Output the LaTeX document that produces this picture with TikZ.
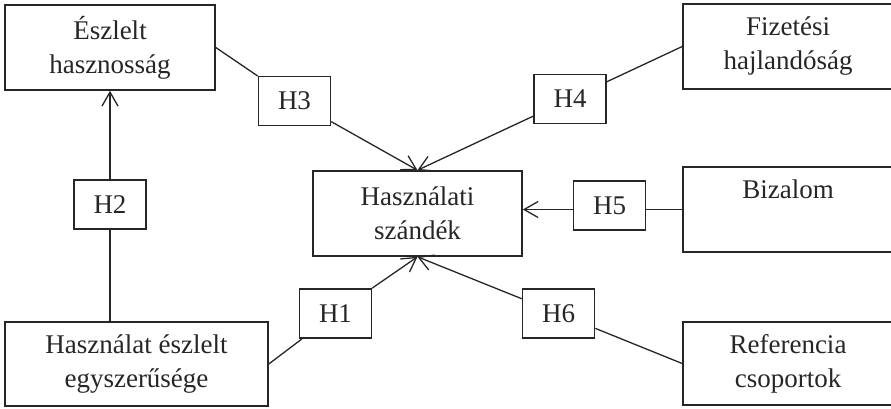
\documentclass[tikz,border=0pt]{standalone}
\usepackage{fontspec}
\setmainfont{Liberation Serif}
\usetikzlibrary{arrows.meta}
\definecolor{ink}{HTML}{262626}
\tikzset{
  box/.style={draw=ink, text=ink, line width=1.6pt, minimum height=85pt, inner sep=0pt, align=center, font=\fontsize{27}{34}\selectfont},
  hbox/.style={draw=ink, text=ink, line width=1.6pt, minimum width=72pt, minimum height=49pt, inner sep=0pt, font=\fontsize{27}{34}\selectfont},
  link/.style={draw=ink, line width=1.3pt},
  arr/.style={link, -{Straight Barb[length=14pt,width=16pt,line width=1.3pt]}}
}
\begin{document}
\begin{tikzpicture}[x=1pt, y=-1pt]
\useasboundingbox (0,0) rectangle (891,408);
% main boxes
\node[box, minimum width=210pt] (EH) at (110,47.5) {Észlelt\\hasznosság};
\node[box, minimum width=210pt] (FH) at (788,46.5) {Fizetési\\hajlandóság};
\node[box, minimum width=209pt] (HSZ) at (417.5,213.5) {Használati\\szándék};
\node[box, minimum width=210pt] (BIZ) at (788,209.5) {Bizalom\\\vphantom{g}};
\node[box, minimum width=263pt, minimum height=84pt] (HESZ) at (136.5,364) {Használat észlelt\\egyszerűsége};
\node[box, minimum width=210pt, minimum height=83pt] (REF) at (788,363.5) {Referencia\\csoportok};
% hypothesis boxes
\node[hbox] (H1) at (335.5,313.5) {H1};
\node[hbox] (H2) at (110,204.5) {H2};
\node[hbox] (H3) at (294.5,101) {H3};
\node[hbox] (H4) at (570,99) {H4};
\node[hbox] (H5) at (609.5,205.5) {H5};
\node[hbox] (H6) at (558.5,313.5) {H6};
% connectors
\draw[link] (H2.south |- HESZ.north) -- (H2.south);
\draw[arr] (H2.north) -- (EH.south);
\draw[link] (EH.east) -- (H3);
\draw[arr] (H3) -- (HSZ.north);
\draw[link] (FH.west) -- (H4);
\draw[arr] (H4) -- (HSZ.north);
\draw[link] (BIZ.west) -- (H5.east |- BIZ.west);
\draw[arr] (H5.west |- BIZ.west) -- (HSZ.east |- BIZ.west);
\draw[link] (HESZ.east) -- (H1);
\draw[arr] (H1) -- (HSZ.south);
\draw[link] (REF.west) -- (H6);
\draw[arr] (H6) -- (HSZ.south);
\end{tikzpicture}
\end{document}
